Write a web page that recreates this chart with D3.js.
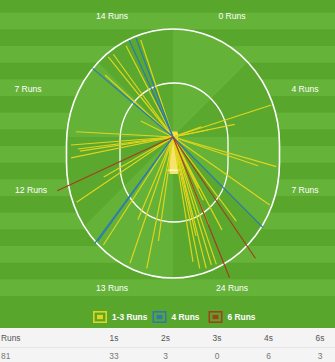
<!DOCTYPE html>
<html>
<head>
<meta charset="utf-8">
<script src="https://cdn.jsdelivr.net/npm/d3@7/dist/d3.min.js"></script>
<style>
body { margin: 0; background: #fff; }
svg { display: block; font-family: "Liberation Sans", Arial, sans-serif; }
</style>
</head>
<body>
<svg></svg>
<script>
// runs per scoring zone, clockwise from straight up the ground
var zoneRuns = [0, 4, 7, 24, 13, 12, 7, 14];

// every scoring shot: direction (deg, clockwise from up), length, runs
var shotAngle = [341.6, 332.8, 321.1, 324.2, 312.4, 296.4,
    273.1, 265.5, 262.8, 261.4, 258.4, 240,
    235.9, 212.8, 198.8, 191.3, 188, 203,
    72, 78.4, 78.7, 70, 106, 108.7, 125.1, 143,
    168.5, 165.8, 163.3, 161.2, 153.4, 170.9, 152.2, 154.5, 166.9, 158,
    310.5, 335.7, 339.5, 216.3, 215.8, 135.2,
    245.1, 145.8, 158.1];
var shotDist = [102.2, 102.7, 103.1, 102, 92, 36,
    97.1, 102.3, 95.8, 94, 104.1, 80,
    116.4, 128.5, 133.4, 133.9, 105, 90,
    103.4, 63, 35.7, 30, 107.5, 89.7, 118.2, 105.2,
    134, 135.5, 133.6, 134.5, 57.4, 126.5, 105, 70, 101.6, 95,
    105.7, 106.4, 105.4, 131.8, 128.2, 127.8,
    127.6, 146.6, 151.7];
var shotRuns = [2, 2, 1, 1, 1, 1,
    1, 1, 1, 1, 1, 1,
    1, 1, 1, 1, 1, 1,
    1, 1, 1, 1, 1, 1, 1, 2,
    1, 1, 1, 1, 1, 1, 1, 1, 1, 1,
    4, 4, 4, 4, 4, 4,
    6, 6, 6];

var legendLabels = ["1-3 Runs", "4 Runs", "6 Runs"];
var tableHead = ["Runs", "1s", "2s", "3s", "4s", "6s"];
var tableVals = [81, 33, 3, 0, 6, 3];

var w = 335, h = 362, fieldH = 328;
var cx = 173, batY = 137;

var svg = d3.select("svg").attr("width", w).attr("height", h);

// outfield stripes
var stripeH = 50 / 3;
svg.append("rect").attr("width", w).attr("height", fieldH).attr("fill", "#58a72c");
svg.selectAll(".stripe")
    .data(d3.range(1, 18, 2))
    .enter().append("rect")
    .attr("x", 0)
    .attr("y", function (d) { return -4 + d * stripeH; })
    .attr("width", w)
    .attr("height", stripeH)
    .attr("fill", "#66b33a");

// boundary shape
var defs = svg.append("defs");
defs.append("clipPath").attr("id", "ground")
    .append("rect")
    .attr("x", 66.5).attr("y", 29).attr("width", 213).attr("height", 249)
    .attr("rx", 106.5).attr("ry", 115);

var ground = svg.append("g").attr("clip-path", "url(#ground)");
ground.append("rect").attr("width", w).attr("height", fieldH).attr("fill", "#5ba92f");

var zoneArc = d3.arc().innerRadius(0).outerRadius(300);
ground.selectAll(".zone")
    .data(zoneRuns)
    .enter().append("path")
    .attr("transform", "translate(" + cx + "," + batY + ")")
    .attr("d", function (d, i) {
        return zoneArc({ startAngle: i * Math.PI / 4, endAngle: (i + 1) * Math.PI / 4 });
    })
    .attr("fill", function (d, i) { return i % 2 == 0 ? "#64b237" : "#5aa82e"; });

svg.append("rect")
    .attr("x", 66.5).attr("y", 29).attr("width", 213).attr("height", 249)
    .attr("rx", 106.5).attr("ry", 115)
    .attr("fill", "none").attr("stroke", "#fff").attr("stroke-width", 1.6);

// inner ring
svg.append("rect")
    .attr("x", 120).attr("y", 83).attr("width", 108).attr("height", 139)
    .attr("rx", 54).attr("ry", 58)
    .attr("fill", "none").attr("stroke", "#fff").attr("stroke-width", 1.3);

// pitch
svg.append("rect").attr("x", 169.5).attr("y", 133).attr("width", 8.5).attr("height", 41)
    .attr("fill", "#f6e46a");
svg.append("rect").attr("x", 170).attr("y", 131.5).attr("width", 7.5).attr("height", 4)
    .attr("fill", "#fbe03c");
svg.append("rect").attr("x", 167.5).attr("y", 169.5).attr("width", 12.5).attr("height", 1.6)
    .attr("fill", "#fff8c8");

// shots
var angle = d3.scaleLinear().domain([0, 360]).range([0, 2 * Math.PI]);
var dist = d3.scaleLinear().domain([0, 100]).range([0, 100]);
var runColor = d3.scaleThreshold().domain([4, 6]).range(["#e0d51c", "#2f79b0", "#a3401b"]);

var shots = d3.range(shotAngle.length).map(function (i) {
    return { a: shotAngle[i], d: shotDist[i], r: shotRuns[i] };
}).sort(function (p, q) { return p.r - q.r; });

var shotG = svg.append("g").attr("transform", "translate(" + cx + "," + batY + ")");
shotG.selectAll("line")
    .data(shots)
    .enter().append("line")
    .attr("x1", 0).attr("y1", 0)
    .attr("x2", function (d) { return d3.pointRadial(angle(d.a), dist(d.d))[0]; })
    .attr("y2", function (d) { return d3.pointRadial(angle(d.a), dist(d.d))[1]; })
    .attr("stroke", function (d) { return runColor(d.r); })
    .attr("stroke-width", 1.2);

// zone labels
var labelX = [232, 305, 305, 232, 112, 31, 28, 112];
var labelY = [16, 89, 190, 288, 288, 190, 89, 16];
svg.selectAll(".zlab")
    .data(zoneRuns)
    .enter().append("text")
    .attr("x", function (d, i) { return labelX[i]; })
    .attr("y", function (d, i) { return labelY[i]; })
    .attr("dy", "0.35em")
    .attr("text-anchor", "middle")
    .attr("fill", "#fff")
    .attr("font-size", "8.6px")
    .text(function (d) { return d + " Runs"; });

// legend
var legX = [93, 152.5, 208.5];
var legColor = ["#e0d51c", "#2f79b0", "#a3401b"];
var leg = svg.selectAll(".leg")
    .data(legendLabels)
    .enter().append("g")
    .attr("transform", function (d, i) { return "translate(" + legX[i] + ",311)"; });
leg.append("rect").attr("x", 0.8).attr("y", 0.8).attr("width", 12.4).attr("height", 10.4)
    .attr("fill", "none")
    .attr("stroke", function (d, i) { return legColor[i]; })
    .attr("stroke-width", 1.6);
leg.append("rect").attr("x", 4).attr("y", 3.8).attr("width", 6).attr("height", 4.4)
    .attr("fill", function (d, i) { return legColor[i]; });
leg.append("text")
    .attr("x", 19).attr("y", 6).attr("dy", "0.35em")
    .attr("fill", "#fff").attr("font-size", "8.4px").attr("font-weight", "bold")
    .text(function (d) { return d; });

// summary table
svg.append("rect").attr("y", fieldH).attr("width", w).attr("height", h - fieldH).attr("fill", "#f4f4f4");
svg.append("line").attr("x1", 0).attr("x2", w).attr("y1", 347.5).attr("y2", 347.5)
    .attr("stroke", "#e6e6e6");
var colX = d3.scaleLinear().domain([1, 5]).range([114, 320]);
function colPos(i) { return i == 0 ? 1 : colX(i); }
svg.selectAll(".th")
    .data(tableHead)
    .enter().append("text")
    .attr("x", function (d, i) { return colPos(i); })
    .attr("y", 338).attr("dy", "0.35em")
    .attr("text-anchor", function (d, i) { return i == 0 ? "start" : "middle"; })
    .attr("fill", "#555").attr("font-size", "8.4px")
    .text(function (d) { return d; });
svg.selectAll(".td")
    .data(tableVals)
    .enter().append("text")
    .attr("x", function (d, i) { return colPos(i); })
    .attr("y", 356).attr("dy", "0.35em")
    .attr("text-anchor", function (d, i) { return i == 0 ? "start" : "middle"; })
    .attr("fill", "#777").attr("font-size", "8.4px")
    .text(function (d) { return d; });
</script>
</body>
</html>
